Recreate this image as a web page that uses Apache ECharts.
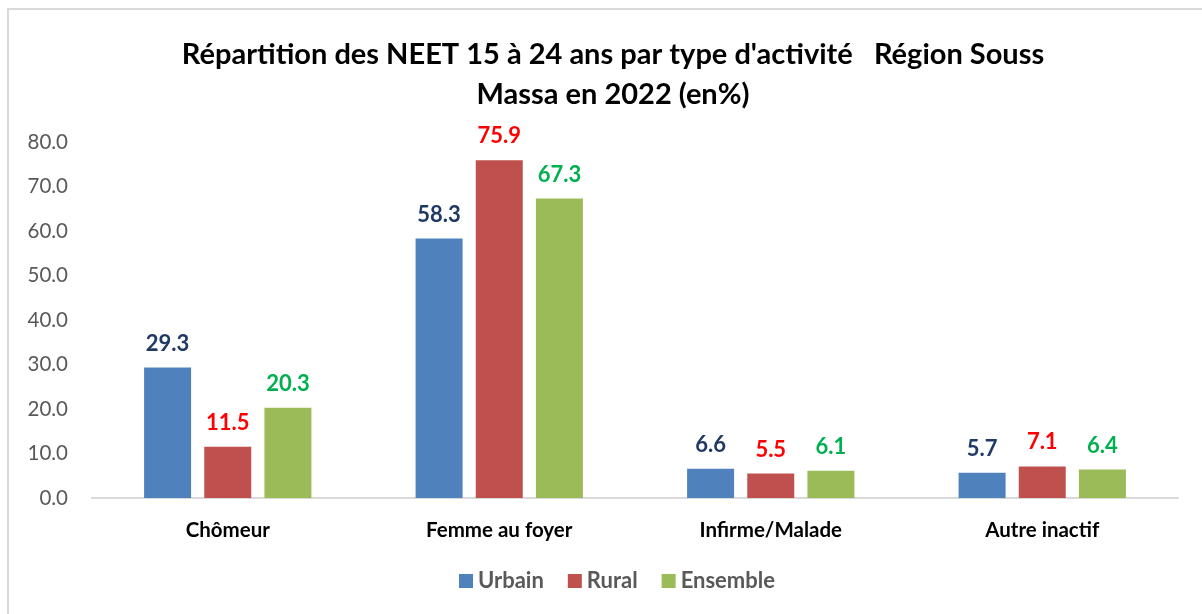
<!DOCTYPE html>
<html>
<head>
<meta charset="utf-8">
<script src="https://cdn.jsdelivr.net/npm/echarts@6/dist/echarts.min.js"></script>
<style>
  html, body { margin: 0; padding: 0; background: #fff; }
  #chart { width: 1202px; height: 614px; }
</style>
</head>
<body>
<div id="chart"></div>
<script>
var categories = ['Chômeur', 'Femme au foyer', 'Infirme/Malade', 'Autre inactif'];
var urbain = [29.3, 58.3, 6.6, 5.7];
var rural = [11.5, 75.9, 5.5, 7.1];
var ensemble = [20.3, 67.3, 6.1, 6.4];
var yTicks = [0, 10, 20, 30, 40, 50, 60, 70, 80];

var fontFamily = 'Lato, "Open Sans", sans-serif';

function makeSeries(name, data, color, labelColor) {
    return {
        name: name,
        type: 'bar',
        data: data,
        barWidth: 47,
        barGap: '28%',
        itemStyle: { color: color },
        label: {
            show: true,
            position: 'top',
            distance: 13,
            color: labelColor,
            fontWeight: 'bold',
            fontSize: 22,
            fontFamily: fontFamily,
            formatter: function (p) {
                return p.value.toFixed(1);
            }
        }
    };
}

var chart = echarts.init(document.getElementById('chart'));
chart.setOption({
    animation: false,
    graphic: [{
        type: 'rect',
        shape: { x: 8, y: 9, width: 1400, height: 800 },
        style: { fill: 'none', stroke: '#d9d9d9', lineWidth: 2 },
        silent: true
    }],
    title: {
        text: "Répartition des NEET 15 à 24 ans par type d'activité   Région Souss\nMassa en 2022 (en%)",
        left: 608,
        textAlign: 'center',
        top: 30,
        textStyle: {
            fontFamily: fontFamily,
            fontWeight: 'bold',
            fontSize: 29,
            lineHeight: 40,
            color: '#000'
        }
    },
    legend: {
        bottom: 17,
        left: 454,
        itemWidth: 14,
        itemHeight: 14,
        itemGap: 24,
        icon: 'rect',
        textStyle: {
            fontFamily: fontFamily,
            fontWeight: 'bold',
            fontSize: 22,
            color: '#595959'
        },
        data: ['Urbain', 'Rural', 'Ensemble']
    },
    grid: {
        left: 92,
        right: 24,
        top: 142,
        bottom: 116,
        containLabel: false
    },
    xAxis: {
        type: 'category',
        data: categories,
        axisLine: { lineStyle: { color: '#d9d9d9', width: 2 } },
        axisTick: { show: false },
        axisLabel: {
            margin: 22,
            color: '#000',
            fontWeight: 'bold',
            fontSize: 20.5,
            fontFamily: fontFamily
        }
    },
    yAxis: {
        type: 'value',
        min: yTicks[0],
        max: yTicks[yTicks.length - 1],
        interval: 10,
        splitLine: { show: false },
        axisLine: { show: false },
        axisTick: { show: false },
        axisLabel: {
            margin: 24,
            color: '#595959',
            fontSize: 20.5,
            fontFamily: fontFamily,
            formatter: function (v) {
                return v.toFixed(1);
            }
        }
    },
    series: [
        makeSeries('Urbain', urbain, '#4f81bd', '#1f3864'),
        makeSeries('Rural', rural, '#c0504d', '#ff0000'),
        makeSeries('Ensemble', ensemble, '#9bbb59', '#00b050')
    ]
});
</script>
</body>
</html>
